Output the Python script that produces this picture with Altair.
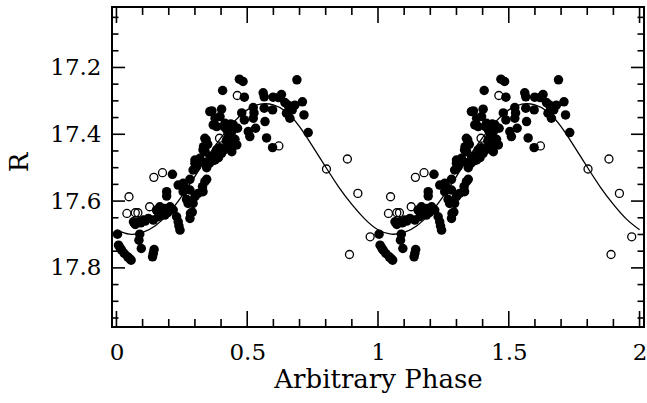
import altair as alt
import pandas as pd

# ---- data (one folded cycle; plotted at phase and phase + 1) ----
filled_phase = [0.004, 0.008, 0.014, 0.020, 0.030, 0.043, 0.050, 0.056, 0.089, 0.086, 0.095, 0.144, 0.138, 0.141,
                0.065, 0.072, 0.084, 0.093, 0.103, 0.110, 0.122, 0.141, 0.160,
                0.153, 0.166, 0.176, 0.185, 0.196, 0.205, 0.217, 0.185, 0.230, 0.236, 0.239, 0.243, 0.283, 0.290,
                0.281, 0.274, 0.293, 0.268, 0.300, 0.312, 0.331, 0.329, 0.338, 0.345, 0.281, 0.262, 0.255, 0.192,
                0.192, 0.236, 0.255, 0.281, 0.214,
                0.293, 0.300, 0.306, 0.319, 0.338, 0.300, 0.319, 0.345, 0.355, 0.366, 0.377, 0.390, 0.331, 0.339,
                0.358, 0.383, 0.402, 0.338, 0.343, 0.349, 0.333, 0.370, 0.357, 0.365, 0.377, 0.396, 0.402, 0.406,
                0.383, 0.411, 0.415, 0.422, 0.428, 0.437, 0.447, 0.463, 0.441, 0.453, 0.460, 0.438, 0.441, 0.377,
                0.395, 0.420, 0.415,
                0.470, 0.484, 0.489, 0.479, 0.489, 0.504, 0.510, 0.523, 0.523, 0.532, 0.526, 0.561, 0.565, 0.565,
                0.568, 0.574, 0.597, 0.599, 0.620, 0.631, 0.644, 0.655, 0.682, 0.711, 0.690, 0.672, 0.650, 0.663,
                0.717, 0.733, 0.597]
filled_r = [17.699, 17.732, 17.740, 17.747, 17.757, 17.767, 17.772, 17.777, 17.699, 17.717, 17.742, 17.745, 17.767, 17.756,
            17.662, 17.670, 17.662, 17.665, 17.657, 17.660, 17.652, 17.657, 17.647,
            17.627, 17.617, 17.630, 17.622, 17.635, 17.617, 17.627, 17.642, 17.647, 17.662, 17.675, 17.687, 17.637, 17.633,
            17.652, 17.607, 17.607, 17.595, 17.587, 17.577, 17.572, 17.557, 17.542, 17.535, 17.567, 17.560, 17.572, 17.572,
            17.585, 17.552, 17.547, 17.535, 17.520,
            17.507, 17.487, 17.497, 17.482, 17.485, 17.477, 17.472, 17.500, 17.487, 17.480, 17.477, 17.470, 17.447, 17.452,
            17.467, 17.447, 17.457, 17.412, 17.417, 17.430, 17.437, 17.372, 17.332, 17.330, 17.352, 17.347, 17.325, 17.269,
            17.377, 17.377, 17.367, 17.387, 17.407, 17.369, 17.372, 17.382, 17.392, 17.415, 17.432, 17.432, 17.452, 17.462,
            17.440, 17.420, 17.445,
            17.235, 17.242, 17.289, 17.336, 17.357, 17.392, 17.407, 17.320, 17.352, 17.382, 17.336, 17.276, 17.288, 17.322,
            17.362, 17.411, 17.327, 17.289, 17.290, 17.281, 17.305, 17.312, 17.313, 17.303, 17.237, 17.327, 17.337, 17.352,
            17.342, 17.395, 17.440]

open_phase = [0.048, 0.040, 0.072, 0.082, 0.127, 0.143, 0.176, 0.394, 0.462, 0.621, 0.803, 0.883, 0.891, 0.923, 0.970]
open_r = [17.587, 17.637, 17.635, 17.635, 17.617, 17.529, 17.515, 17.412, 17.284, 17.435, 17.504, 17.474, 17.760, 17.577, 17.707]

curve_phase = [0.00, 0.05, 0.10, 0.15, 0.20, 0.25, 0.30, 0.35, 0.40, 0.45, 0.50,
               0.55, 0.60, 0.65, 0.70, 0.75, 0.80, 0.85, 0.90, 0.95]
curve_r = [17.686, 17.699, 17.694, 17.673, 17.636, 17.585, 17.526, 17.465, 17.410, 17.362, 17.327,
           17.310, 17.312, 17.333, 17.377, 17.436, 17.498, 17.558, 17.610, 17.654]
curve_end = (2.0, 17.686)

x_major = [0, 0.5, 1, 1.5, 2]
x_minor = [0.1, 0.2, 0.3, 0.4, 0.6, 0.7, 0.8, 0.9, 1.1, 1.2, 1.3, 1.4, 1.6, 1.7, 1.8, 1.9]
y_major = [17.2, 17.4, 17.6, 17.8]
y_minor = [17.05, 17.1, 17.15, 17.25, 17.3, 17.35, 17.45, 17.5, 17.55, 17.65, 17.7, 17.75, 17.85, 17.9, 17.95]

# ---- tables ----
filled_df = pd.DataFrame({"phase": filled_phase + [p + 1 for p in filled_phase], "R": filled_r + filled_r})
open_df = pd.DataFrame({"phase": open_phase + [p + 1 for p in open_phase], "R": open_r + open_r})
curve_df = pd.DataFrame({"phase": curve_phase + [p + 1 for p in curve_phase] + [curve_end[0]],
                         "R": curve_r + curve_r + [curve_end[1]]})
xmaj_df = pd.DataFrame({"phase": x_major})
xmin_df = pd.DataFrame({"phase": x_minor})
ymaj_df = pd.DataFrame({"R": y_major})
ymin_df = pd.DataFrame({"R": y_minor})

W, H = 532, 320
FONT = "DejaVu Serif"
xs = alt.Scale(domain=[-0.017, 2.017], nice=False, zero=False)
ys = alt.Scale(domain=[17.019, 17.977], nice=False, zero=False, reverse=True)

x_axis = alt.Axis(values=x_major, format="~g", ticks=False, tickSize=0, domain=False, grid=False,
                  labelFont=FONT, labelFontSize=23, labelPadding=14, labelColor="black",
                  labelFlush=False, labelOverlap=False, labelBound=False,
                  title="Arbitrary Phase", titleFont=FONT, titleFontSize=26, titleFontWeight="normal",
                  titleColor="black", titleY=60, titleBaseline="alphabetic")
y_axis = alt.Axis(values=y_major, format="~g", ticks=False, tickSize=0, domain=False, grid=False,
                  labelFont=FONT, labelFontSize=23, labelPadding=11, labelColor="black",
                  labelFlush=False, labelOverlap=False, labelBound=False,
                  title="R", titleFont=FONT, titleFontSize=26, titleFontWeight="normal",
                  titleColor="black", titleX=-85, titleY=155, titleAngle=270,
                  titleBaseline="alphabetic", titleAlign="center")

X = alt.X("phase:Q", scale=xs, axis=x_axis)
Y = alt.Y("R:Q", scale=ys, axis=y_axis)

filled = alt.Chart(filled_df).mark_point(shape="circle", filled=True, size=90, color="black",
                                         opacity=1, clip=True).encode(x=X, y=Y)
opened = alt.Chart(open_df).mark_point(shape="circle", filled=False, size=64, stroke="black",
                                       strokeWidth=1.3, opacity=1, clip=True).encode(x=X, y=Y)
curve = alt.Chart(curve_df).mark_line(color="black", strokeWidth=1.3, interpolate="natural",
                                      clip=True).encode(x=X, y=Y)


def xticks(df, length):
    bottom = alt.Chart(df).mark_rule(color="black", strokeWidth=1.6).encode(
        x=X, y=alt.value(H), y2=alt.value(H - length))
    top = alt.Chart(df).mark_rule(color="black", strokeWidth=1.6).encode(
        x=X, y=alt.value(0), y2=alt.value(length))
    return [bottom, top]


def yticks(df, length):
    left = alt.Chart(df).mark_rule(color="black", strokeWidth=1.6).encode(
        y=Y, x=alt.value(0), x2=alt.value(length))
    right = alt.Chart(df).mark_rule(color="black", strokeWidth=1.6).encode(
        y=Y, x=alt.value(W), x2=alt.value(W - length))
    return [left, right]


layers = [filled, opened, curve] + xticks(xmaj_df, 16) + xticks(xmin_df, 8) + yticks(ymaj_df, 13) + yticks(ymin_df, 6.5)

chart = alt.layer(*layers).properties(
    width=W, height=H, autosize="none",
    padding={"left": 112, "top": 7, "right": 3, "bottom": 76},
    background="white",
).configure_view(stroke="black", strokeWidth=2)

chart.save("out.html", embed_options={"renderer": "svg", "actions": False})
